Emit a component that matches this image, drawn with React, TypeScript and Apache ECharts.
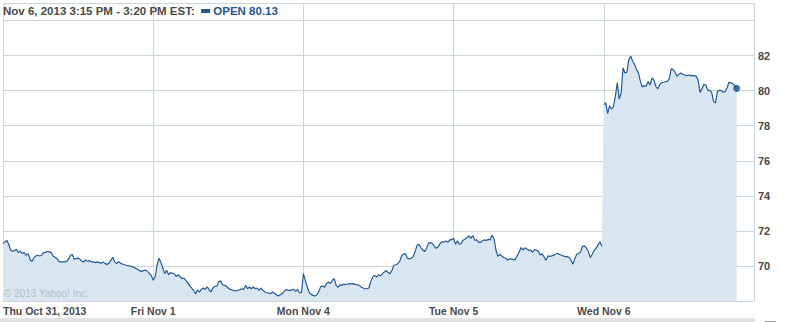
import React, { useEffect, useRef } from "react";
import * as echarts from "echarts";

const dayLabels = ["Thu Oct 31, 2013", "Fri Nov 1", "Mon Nov 4", "Tue Nov 5", "Wed Nov 6"];
const barsPerDay = 78;

const thu = [
  71.27, 71.37, 71.46, 71.22, 70.89, 70.84, 70.87, 70.95, 70.76, 70.85,
  70.72, 70.76, 70.61, 70.7, 70.38, 70.26, 70.45, 70.57, 70.61, 70.57,
  70.61, 70.76, 70.76, 70.84, 70.8, 70.76, 70.57, 70.49, 70.42, 70.26,
  70.23, 70.23, 70.23, 70.26, 70.38, 70.61, 70.65, 70.38, 70.42, 70.45,
  70.38, 70.26, 70.23, 70.34, 70.26, 70.3, 70.23, 70.23, 70.19, 70.23,
  70.19, 70.15, 70.23, 70.13, 70.09, 70.15, 70.32, 70.49, 70.23, 70.13,
  70.26, 70.15, 70.11, 70.07, 70.04, 70.0, 70.0, 69.96, 69.92, 69.85,
  69.81, 69.73, 69.69, 69.73, 69.77, 69.69, 69.58, 69.46,
];
const fri = [
  69.18, 69.37, 70.04, 70.45, 70.19, 69.88, 69.56, 69.75, 69.5, 69.62,
  69.58, 69.54, 69.39, 69.5, 69.39, 69.27, 69.31, 69.16, 69.05, 68.85,
  68.74, 68.61, 68.4, 68.63, 68.51, 68.66, 68.74, 68.66, 68.8, 68.66,
  68.51, 68.74, 68.84, 68.85, 69.08, 69.16, 68.93, 68.89, 68.85, 68.74,
  68.66, 68.63, 68.59, 68.57, 68.61, 68.65, 68.7, 68.66, 68.89, 68.7,
  68.8, 68.7, 68.8, 68.7, 68.74, 68.61, 68.74, 68.61, 68.51, 68.47,
  68.45, 68.42, 68.51, 68.44, 68.36, 68.28, 68.36, 68.42, 68.55, 68.66,
  68.61, 68.61, 68.63, 68.66, 68.55, 68.66, 68.47, 68.47,
];
const mon = [
  69.56, 69.18, 68.8, 68.51, 68.38, 68.32, 68.28, 68.36, 68.55, 68.82,
  68.85, 68.78, 68.99, 69.08, 68.99, 69.18, 69.27, 68.89, 68.78, 68.93,
  68.89, 68.97, 68.93, 68.97, 68.99, 68.97, 68.99, 68.95, 68.93, 68.89,
  68.8, 68.74, 68.7, 68.7, 68.74, 69.12, 69.37, 69.46, 69.37, 69.5,
  69.43, 69.56, 69.65, 69.75, 69.62, 69.56, 69.75, 70.04, 70.07, 70.13,
  70.26, 70.57, 70.68, 70.7, 70.44, 70.4, 70.44, 70.53, 70.82, 71.16,
  71.24, 71.05, 70.91, 70.82, 71.01, 71.3, 71.33, 71.28, 71.12, 71.01,
  71.09, 71.28, 71.39, 71.35, 71.43, 71.35, 71.49, 71.5,
];
const tue = [
  71.58, 71.24, 71.43, 71.24, 71.3, 71.47, 71.54, 71.62, 71.71, 71.58,
  71.73, 71.47, 71.49, 71.35, 71.35, 71.43, 71.49, 71.45, 71.52, 71.49,
  71.77, 71.54, 70.91, 70.55, 70.67, 70.57, 70.48, 70.44, 70.34, 70.4,
  70.4, 70.36, 70.36, 70.59, 70.78, 71.05, 70.91, 71.03, 70.97, 70.89,
  70.91, 70.78, 70.93, 70.91, 70.82, 70.63, 70.7, 70.51, 70.32, 70.57,
  70.55, 70.57, 70.63, 70.67, 70.72, 70.65, 70.61, 70.57, 70.53, 70.53,
  70.48, 70.32, 70.1, 70.44, 70.67, 70.71, 70.82, 71.12, 71.14, 71.01,
  70.82, 70.48, 70.67, 70.89, 71.01, 71.2, 71.38, 71.12,
];
const wed = [
  79.2, 79.3, 78.69, 79.14, 78.95, 79.07, 79.68, 80.44, 79.52, 79.87,
  81.3, 81.01, 81.05, 81.77, 81.96, 81.68, 81.49, 81.2, 81.01, 80.53,
  80.21, 80.29, 80.25, 80.53, 80.32, 80.72, 80.63, 80.25, 80.1, 80.34,
  80.46, 80.48, 80.51, 80.53, 80.67, 81.24, 81.2, 81.05, 80.82, 80.93,
  81.01, 80.93, 80.89, 80.86, 80.89, 80.86, 80.86, 80.86, 80.82, 80.59,
  79.9, 80.1, 80.36, 80.32, 80.02, 80.02, 79.9, 79.39, 79.3, 79.96,
  80.02, 80.02, 79.9, 79.94, 80.15, 80.48, 80.44, 80.4, 80.29, 80.13,
];
const days = [thu, fri, mon, tue, wed];

const yMin = 68;
const yMax = 85;
const yStep = 2;
const yLabelMin = 70;
const yLabelMax = 82;

const headerLabel = "Nov 6, 2013 3:15 PM - 3:20 PM EST:";
const seriesName = "OPEN";
const copyright = "\u00A9 2013 Yahoo! Inc.";

const FONT = '"Liberation Sans", Arial, sans-serif';
const GRID = "#c9d6e0";
const LINE = "#245a93";
const FILL = "#d7e6f1";
const TEXT = "#4a4a4a";
const BLUE = "#1f5591";

export default function App() {
  const ref = useRef<HTMLDivElement>(null);
  useEffect(() => {
    const chart = echarts.init(ref.current!, null, { renderer: "svg" });
    const areaData: any[] = [];
    const lineData: any[] = [];
    days.forEach((vals, d) => {
      if (d === days.length - 1) lineData.push([d * barsPerDay - 0.5, null]);
      vals.forEach((v, j) => {
        const p = [d * barsPerDay + j, v];
        areaData.push(p);
        lineData.push(p);
      });
    });
    const last = areaData[areaData.length - 1];
    const total = barsPerDay * days.length;

    chart.setOption({
      animation: false,
      backgroundColor: "#ffffff",
      title: {
        left: 3,
        top: 5,
        padding: 0,
        text: `{a|${headerLabel}}  {m|} {b|${seriesName} ${last[1].toFixed(2)}}`,
        textStyle: {
          fontFamily: FONT,
          fontSize: 11.5,
          rich: {
            a: { fontFamily: FONT, fontSize: 11.5, fontWeight: "bold", color: TEXT },
            m: { backgroundColor: BLUE, width: 9, height: 4 },
            b: { fontFamily: FONT, fontSize: 11.5, fontWeight: "bold", color: BLUE },
          },
        },
      },
      grid: { left: -1, right: 34, top: 3, bottom: 21, containLabel: false },
      xAxis: {
        type: "value",
        min: 0,
        max: total,
        interval: barsPerDay,
        axisLine: { show: true, lineStyle: { color: GRID, width: 1 } },
        axisTick: { show: false },
        splitLine: { show: true, lineStyle: { color: GRID, width: 1 } },
        axisLabel: {
          show: true,
          margin: 4,
          color: TEXT,
          fontFamily: FONT,
          fontSize: 10.5,
          fontWeight: "bold",
          showMaxLabel: false,
          alignMinLabel: "left",
          formatter: (v: number) => {
            const k = Math.round(v / barsPerDay);
            return k < dayLabels.length && v % barsPerDay === 0 ? dayLabels[k] : "";
          },
        },
      },
      yAxis: {
        type: "value",
        position: "right",
        min: yMin,
        max: yMax,
        interval: yStep,
        axisLine: { show: true, lineStyle: { color: GRID, width: 1 } },
        axisTick: { show: false },
        splitLine: { show: true, lineStyle: { color: GRID, width: 1 } },
        axisLabel: {
          margin: 4,
          color: TEXT,
          fontFamily: FONT,
          fontSize: 11,
          fontWeight: "bold",
          formatter: (v: number) => (v >= yLabelMin && v <= yLabelMax ? String(v) : ""),
        },
      },
      graphic: [
        {
          type: "text",
          left: 4,
          top: 288,
          z: 100,
          silent: true,
          style: { text: copyright, fill: "#b3bfc8", font: `10px ${FONT}` },
        },
        {
          type: "rect",
          shape: { x: 0, y: 318, width: 755, height: 4 },
          style: { fill: "#e2e2e2" },
          silent: true,
        },
        {
          type: "rect",
          shape: { x: 765, y: 321, width: 11, height: 1 },
          style: { fill: "#9a9a9a" },
          silent: true,
        },
      ],
      series: [
        {
          type: "line",
          data: areaData,
          symbol: "none",
          lineStyle: { width: 0 },
          areaStyle: { color: FILL, opacity: 1, origin: "start" },
          silent: true,
          z: 1,
        },
        {
          type: "line",
          data: lineData,
          symbol: "none",
          connectNulls: false,
          lineStyle: { color: LINE, width: 1.2 },
          silent: true,
          z: 3,
        },
        {
          type: "scatter",
          data: [last],
          symbol: "circle",
          symbolSize: 7,
          itemStyle: { color: "#1b4f88" },
          silent: true,
          z: 4,
        },
      ],
    });
    return () => chart.dispose();
  }, []);
  return (
    <div
      ref={ref}
      style={{ position: "fixed", left: 0, top: 0, width: 788, height: 322, background: "#fff" }}
    />
  );
}
